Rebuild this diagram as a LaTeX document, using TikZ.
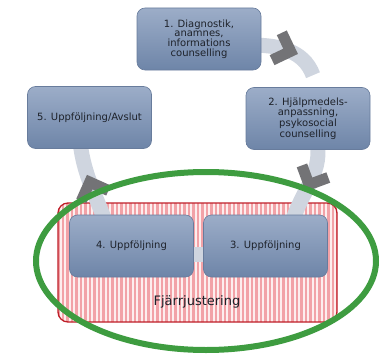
\documentclass[tikz,border=0pt]{standalone}
\usepackage{fontspec}
\setmainfont{DejaVu Sans}
\usetikzlibrary{patterns.meta,decorations.markings}

\definecolor{boxtop}{RGB}{156,173,200}
\definecolor{boxbot}{RGB}{110,133,168}
\definecolor{boxline}{RGB}{104,124,156}
\definecolor{bandgray}{RGB}{207,213,223}
\definecolor{chevgray}{RGB}{115,115,118}
\definecolor{stripe}{RGB}{242,162,167}
\definecolor{stripebg}{RGB}{253,238,238}
\definecolor{remotered}{RGB}{190,30,40}
\definecolor{ringgreen}{RGB}{62,156,64}
\definecolor{txt}{RGB}{30,34,42}

\pgfdeclarelayer{bg}
\pgfsetlayers{bg,main}

\tikzset{
  stepbox/.style={draw=boxline, line width=0.6pt, rounded corners=8pt,
    top color=boxtop, bottom color=boxbot, minimum width=124pt,
    minimum height=62pt, align=center, text=txt, inner sep=2pt,
    font=\fontsize{10}{9.6}\selectfont},
  band/.style={draw=bandgray, line width=15pt},
  chevmark/.style={postaction={decorate, decoration={markings,
    mark=at position #1 with {\fill[chevgray] (12pt,0pt) -- (-6.4pt,18.4pt)
      -- (-14.2pt,10.6pt) -- (-3.6pt,0pt) -- (-14.2pt,-10.6pt)
      -- (-6.4pt,-18.4pt) -- cycle;}}}}
}

\begin{document}
\begin{tikzpicture}[x=1pt,y=1pt]
\useasboundingbox (0,0) rectangle (380,357);

% Steps
\node[stepbox] (s1) at (199,318) {1. Diagnostik,\\anamnes,\\informations\\counselling};
\node[stepbox] (s2) at (308,238.5) {2. Hjälpmedels-\\anpassning,\\psykosocial\\counselling};
\node[stepbox] (s3) at (265.5,111) {3. Uppföljning};
\node[stepbox] (s4) at (131.5,111) {4. Uppföljning};
\node[stepbox] (s5) at (89.5,239.5) {5. Uppföljning/Avslut};

% Remote adjustment area
\begin{pgfonlayer}{bg}
\node[draw=remotered, line width=1.3pt, rounded corners=10pt,
  preaction={fill=stripebg},
  pattern={Lines[angle=90,distance=4.5pt,line width=2.2pt]}, pattern color=stripe,
  minimum width=279pt, minimum height=119pt] (remote) at (197.5,94.5) {};

% Cycle
\draw[band, chevmark=0.5] ([xshift=-12pt,yshift=-6pt]s1.east) to[out=0,in=110] ([xshift=5pt,yshift=12pt]s2.north);
\draw[band, chevmark=0.48] ([xshift=8pt,yshift=12pt]s2.south) to[out=-75,in=75] ([xshift=26pt,yshift=-10pt]s3.north);
\draw[band] ([yshift=-8pt]s3.center) -- ([yshift=-8pt]s4.center);
\draw[band, chevmark=0.45] ([xshift=-25pt,yshift=-10pt]s4.north) to[out=110,in=-85] ([xshift=-10pt,yshift=12pt]s5.south);
\end{pgfonlayer}

\node[text=txt, font=\fontsize{13}{15}\selectfont] (remlabel) at (197,55) {Fjärrjustering};

% Green ring
\draw[ringgreen, line width=6pt] (206,96) ellipse [x radius=170, y radius=89];
\end{tikzpicture}
\end{document}
